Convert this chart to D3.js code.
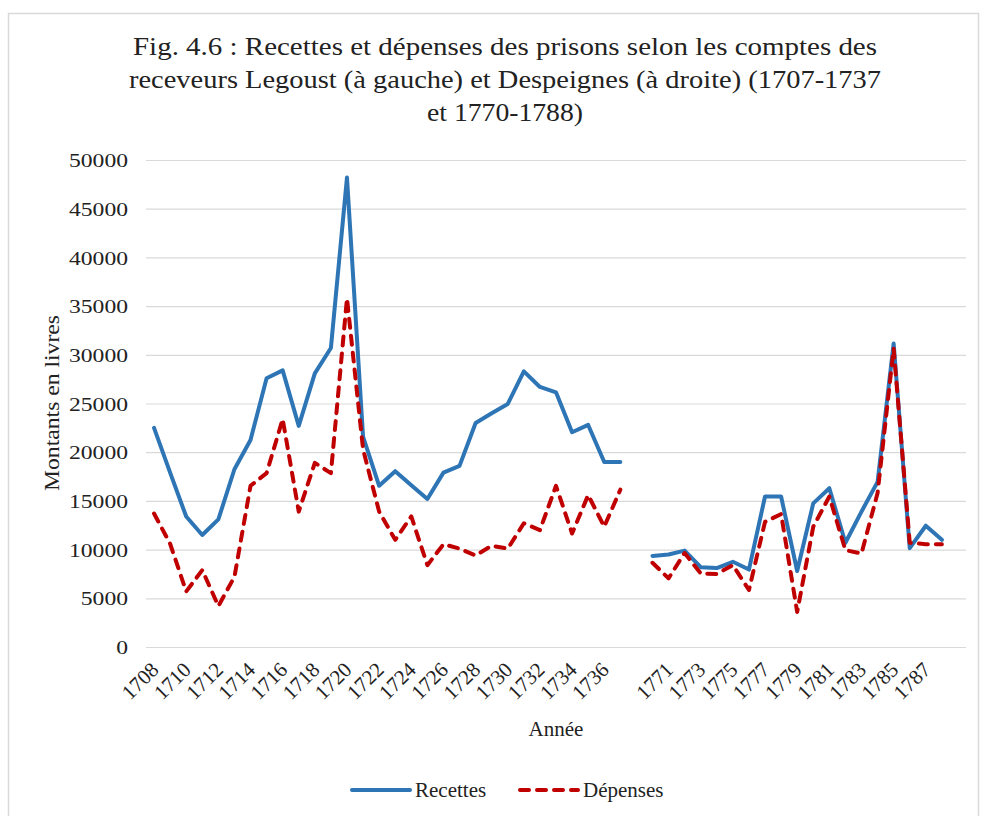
<!DOCTYPE html>
<html>
<head>
<meta charset="utf-8">
<script src="https://cdn.jsdelivr.net/npm/d3@7"></script>
<style>
  html, body { margin: 0; padding: 0; background: #ffffff; }
  svg { display: block; }
  text { font-family: "Liberation Serif", "Times New Roman", serif; fill: #222; }
</style>
</head>
<body>
<svg id="chart" width="987" height="816"></svg>
<script>
// ---- Data ----
const years = [
  "1708","1709","1710","1711","1712","1713","1714","1715","1716","1717",
  "1718","1719","1720","1721","1722","1723","1724","1725","1726","1727",
  "1728","1729","1730","1731","1732","1733","1734","1735","1736","1737",
  "",
  "1770","1771","1772","1773","1774","1775","1776","1777","1778","1779",
  "1780","1781","1782","1783","1784","1785","1786","1787","1788",
  ""
];
const recettes = [
  22500, 17900, 13400, 11500, 13100, 18250, 21250, 27600, 28400, 22700,
  28100, 30700, 48200, 21600, 16550, 18050, 16600, 15200, 17900, 18600,
  23000, 24000, 24950, 28300, 26700, 26150, 22050, 22800, 19000, 19000,
  null,
  9350, 9500, 9900, 8200, 8100, 8750, 7950, 15450, 15450, 7800,
  14750, 16300, 10700, 13900, 16950, 31150, 10150, 12450, 11000,
  null
];
const depenses = [
  13700, 10600, 5700, 7900, 4200, 7200, 16550, 17850, 23400, 13900,
  18900, 17850, 35800, 20300, 13900, 11000, 13400, 8400, 10550, 10100,
  9400, 10400, 10100, 12700, 12000, 16550, 11650, 15600, 12350, 16150,
  null,
  8650, 7050, 9650, 7550, 7500, 8400, 5850, 12850, 13650, 3600,
  12350, 15450, 9950, 9600, 15800, 30650, 10700, 10550, 10550,
  null
];
const yTicks = [0, 5000, 10000, 15000, 20000, 25000, 30000, 35000, 40000, 45000, 50000];
const titleLines = [
  "Fig. 4.6 : Recettes et dépenses des prisons selon les comptes des",
  "receveurs Legoust (à gauche) et Despeignes (à droite) (1707-1737",
  "et 1770-1788)"
];
const seriesNames = ["Recettes", "Dépenses"];
const seriesColors = ["#2e75b6", "#c00000"];

// ---- Layout ----
const svg = d3.select("#chart");
const plot = { left: 146, right: 966, top: 160, bottom: 647 };

// chart border
svg.append("rect")
  .attr("x", 8.5).attr("y", 13.5)
  .attr("width", 970).attr("height", 830)
  .attr("fill", "#fff").attr("stroke", "#d9d9d9").attr("stroke-width", 1.5);

// title
const titleW = [744, 752, 156];
svg.append("g").selectAll("text")
  .data(titleLines).join("text")
  .attr("x", 505)
  .attr("y", (d, i) => 55 + i * 33)
  .attr("text-anchor", "middle")
  .attr("font-size", 25)
  .attr("textLength", (d, i) => titleW[i])
  .attr("lengthAdjust", "spacingAndGlyphs")
  .text(d => d);

// scales
const x = d3.scaleBand()
  .domain(d3.range(years.length))
  .range([plot.left, plot.right])
  .paddingInner(0).paddingOuter(0);
const y = d3.scaleLinear().domain([0, 50000]).range([plot.bottom, plot.top]);
const cx = i => x(i) + x.bandwidth() / 2;

// gridlines
svg.append("g")
  .attr("transform", `translate(${plot.left},0)`)
  .call(d3.axisLeft(y).tickValues(yTicks).tickSize(-(plot.right - plot.left)).tickFormat(""))
  .call(g => g.select(".domain").remove())
  .call(g => g.selectAll("line").attr("stroke", "#d9d9d9").attr("stroke-width", 1.2));

// y axis labels
const yAx = svg.append("g")
  .attr("transform", `translate(${plot.left - 15},0)`)
  .call(d3.axisLeft(y).tickValues(yTicks).tickSize(0).tickFormat(d3.format("d")));
yAx.select(".domain").remove();
yAx.selectAll("text")
  .attr("font-family", "Liberation Serif, serif")
  .attr("font-size", 19)
  .attr("fill", "#222")
  .attr("dy", "0.35em")
  .attr("textLength", function () { return this.textContent.length * 11.8; })
  .attr("lengthAdjust", "spacingAndGlyphs");

// x axis labels
const xAx = svg.append("g")
  .attr("transform", `translate(0,${plot.bottom})`)
  .call(d3.axisBottom(x).tickSize(0)
    .tickFormat(i => (i % 2 === 0 ? years[i] : "")));
xAx.select(".domain").remove();
xAx.selectAll("text")
  .attr("font-family", "Liberation Serif, serif")
  .attr("font-size", 21)
  .attr("fill", "#222")
  .attr("text-anchor", "end")
  .attr("y", 0).attr("dy", 0)
  .attr("transform", "translate(6,24) rotate(-45)");

// axis titles
svg.append("text")
  .attr("transform", "translate(59,403) rotate(-90)")
  .attr("text-anchor", "middle")
  .attr("font-size", 22)
  .attr("textLength", 176)
  .attr("lengthAdjust", "spacingAndGlyphs")
  .text("Montants en livres");
svg.append("text")
  .attr("x", (plot.left + plot.right) / 2)
  .attr("y", 736)
  .attr("text-anchor", "middle")
  .attr("font-size", 21)
  .text("Année");

// lines
const series = [recettes, depenses];
const line = d3.line()
  .defined(d => d.v != null)
  .x(d => cx(d.i))
  .y(d => y(d.v));
series.forEach((vals, s) => {
  svg.append("path")
    .datum(vals.map((v, i) => ({ i, v })))
    .attr("fill", "none")
    .attr("stroke", seriesColors[s])
    .attr("stroke-width", 4)
    .attr("stroke-linejoin", "round")
    .attr("stroke-linecap", "round")
    .attr("stroke-dasharray", s === 1 ? "9,8" : null)
    .attr("d", line);
});

// legend
const legend = svg.append("g");
const legItems = [{ x: 352, tx: 415 }, { x: 520, tx: 583 }];
seriesNames.forEach((name, s) => {
  const g = legend.append("g");
  g.append("line")
    .attr("x1", legItems[s].x).attr("x2", legItems[s].x + 58)
    .attr("y1", 790).attr("y2", 790)
    .attr("stroke", seriesColors[s]).attr("stroke-width", 4)
    .attr("stroke-linecap", "round")
    .attr("stroke-dasharray", s === 1 ? "9,8" : null);
  g.append("text")
    .attr("x", legItems[s].tx).attr("y", 797)
    .attr("font-size", 21)
    .text(name);
});
</script>
</body>
</html>
